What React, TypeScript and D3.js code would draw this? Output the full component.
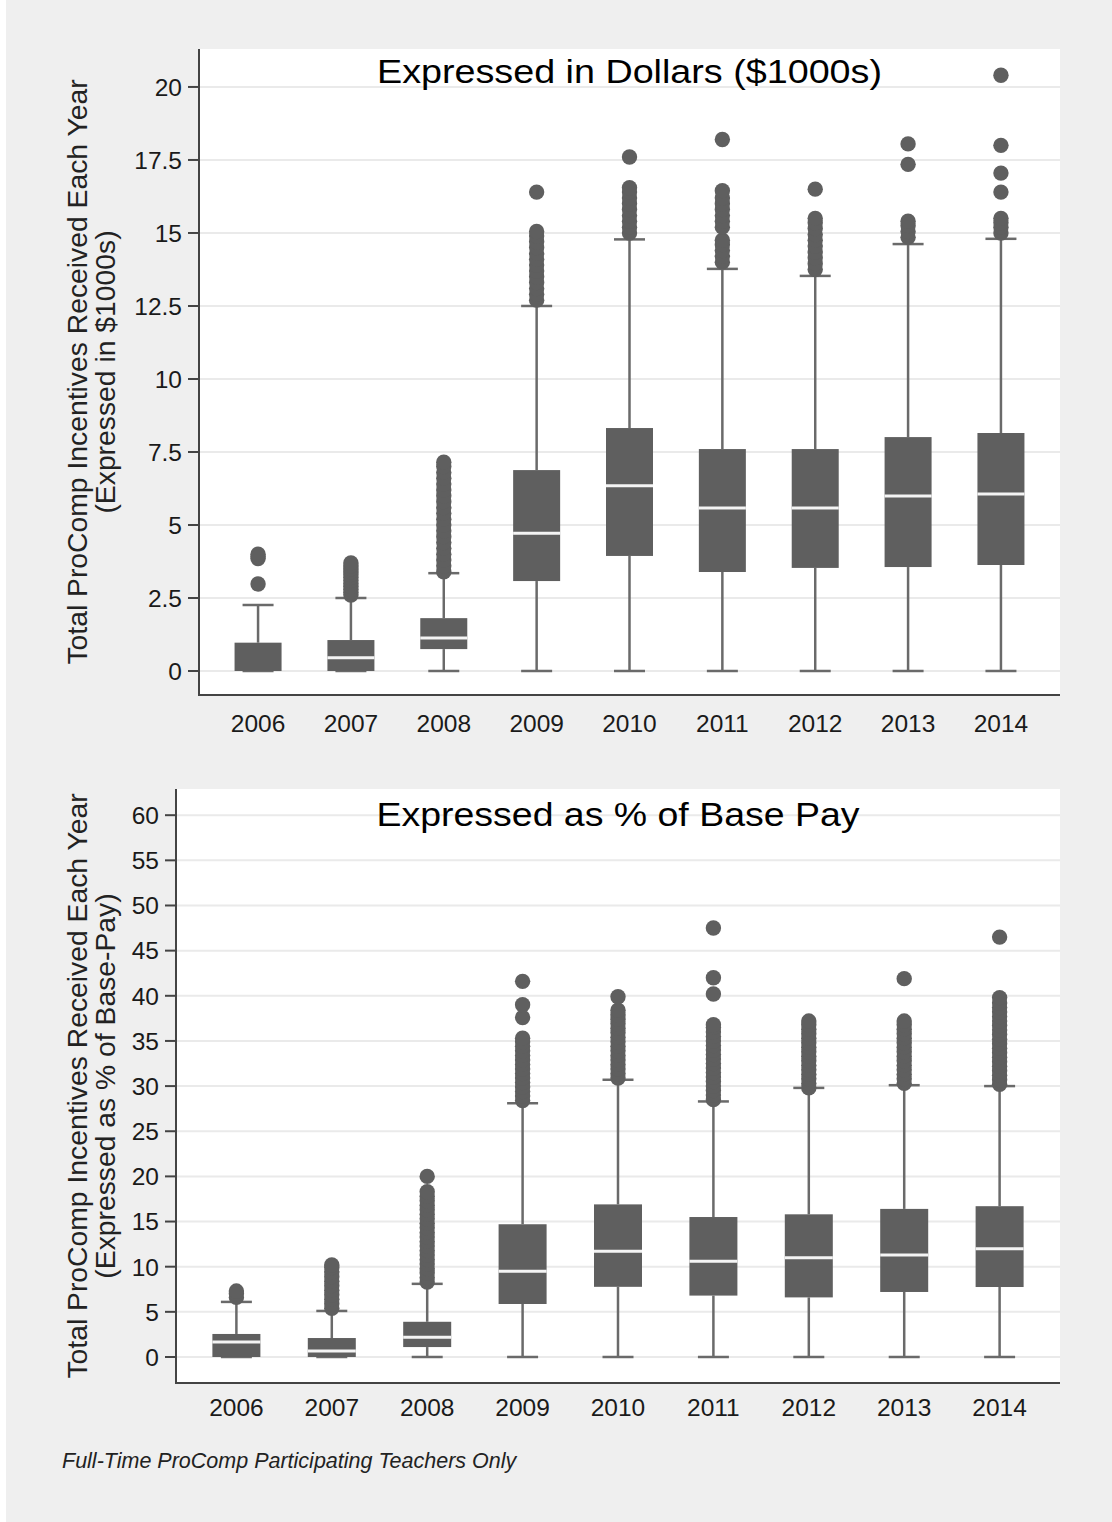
import React from "react";
import * as d3 from "d3";

// ---------- data ----------
const YEARS = ["2006", "2007", "2008", "2009", "2010", "2011", "2012", "2013", "2014"];

// Panel 1: dollars ($1000s)
const DOLLAR_TICKS = [0, 2.5, 5, 7.5, 10, 12.5, 15, 17.5, 20];
const DOLLAR_LO = [0, 0, 0, 0, 0, 0, 0, 0, 0];
const DOLLAR_Q1 = [0, 0, 0.75, 3.08, 3.94, 3.39, 3.53, 3.56, 3.63];
const DOLLAR_MED = [0, 0.45, 1.13, 4.72, 6.34, 5.58, 5.58, 5.99, 6.06];
const DOLLAR_Q3 = [0.97, 1.06, 1.81, 6.88, 8.32, 7.6, 7.6, 8.01, 8.15];
const DOLLAR_HI = [2.26, 2.5, 3.35, 12.5, 14.78, 13.77, 13.53, 14.62, 14.8];
const DOLLAR_OUTLIERS = [
  [2.98, 3.85, 3.92, 4.0],
  [2.6, 2.7, 2.8, 2.9, 3.0, 3.1, 3.2, 3.3, 3.4, 3.5, 3.6, 3.7],
  [3.4, 3.6, 3.8, 4.0, 4.2, 4.4, 4.6, 4.8, 5.0, 5.2, 5.4, 5.6, 5.8, 6.0, 6.2, 6.4, 6.6, 6.8, 7.0, 7.15],
  [12.7, 12.9, 13.1, 13.3, 13.5, 13.7, 13.9, 14.1, 14.3, 14.5, 14.7, 14.9, 15.05, 16.4],
  [15.0, 15.2, 15.4, 15.6, 15.8, 16.0, 16.2, 16.4, 16.55, 17.6],
  [14.0, 14.2, 14.4, 14.6, 14.75, 15.2, 15.4, 15.6, 15.8, 16.0, 16.2, 16.45, 18.2],
  [13.75, 13.95, 14.15, 14.35, 14.55, 14.75, 14.95, 15.15, 15.35, 15.5, 16.5],
  [14.85, 15.05, 15.25, 15.4, 17.35, 18.05],
  [15.0, 15.2, 15.35, 15.5, 16.4, 17.05, 18.0, 20.4],
];

// Panel 2: % of base pay
const PCT_TICKS = [0, 5, 10, 15, 20, 25, 30, 35, 40, 45, 50, 55, 60];
const PCT_LO = [0, 0, 0, 0, 0, 0, 0, 0, 0];
const PCT_Q1 = [0, 0, 1.1, 5.87, 7.77, 6.8, 6.6, 7.2, 7.75];
const PCT_MED = [1.66, 0.66, 2.2, 9.5, 11.7, 10.6, 11.0, 11.3, 12.0];
const PCT_Q3 = [2.55, 2.1, 3.9, 14.7, 16.9, 15.5, 15.8, 16.4, 16.7];
const PCT_HI = [6.1, 5.1, 8.1, 28.1, 30.7, 28.3, 29.8, 30.1, 30.0];
const PCT_OUTLIERS = [
  [6.6, 7.0, 7.3],
  [5.4, 5.9, 6.4, 6.9, 7.4, 7.9, 8.4, 8.9, 9.4, 9.9, 10.2],
  [8.3, 8.8, 9.3, 9.8, 10.3, 10.8, 11.3, 11.8, 12.3, 12.8, 13.3, 13.8, 14.3, 14.8, 15.3, 15.8, 16.3, 16.8, 17.3, 17.8, 18.3, 20.0],
  [28.4, 28.9, 29.4, 29.9, 30.4, 30.9, 31.4, 31.9, 32.4, 32.9, 33.4, 33.9, 34.4, 34.9, 35.3, 37.6, 39.0, 41.6],
  [30.9, 31.4, 31.9, 32.4, 32.9, 33.4, 33.9, 34.4, 34.9, 35.4, 35.9, 36.4, 36.9, 37.4, 37.9, 38.4, 39.9],
  [28.5, 29.0, 29.5, 30.0, 30.5, 31.0, 31.5, 32.0, 32.5, 33.0, 33.5, 34.0, 34.5, 35.0, 35.5, 36.0, 36.5, 36.8, 40.2, 42.0, 47.5],
  [29.8, 30.3, 30.8, 31.3, 31.8, 32.3, 32.8, 33.3, 33.8, 34.3, 34.8, 35.3, 35.8, 36.3, 36.8, 37.2],
  [30.3, 30.8, 31.3, 31.8, 32.3, 32.8, 33.3, 33.8, 34.3, 34.8, 35.3, 35.8, 36.3, 36.8, 37.2, 41.9],
  [30.2, 30.7, 31.2, 31.7, 32.2, 32.7, 33.2, 33.7, 34.2, 34.7, 35.2, 35.7, 36.2, 36.7, 37.2, 37.7, 38.2, 38.7, 39.2, 39.8, 46.5],
];

const TITLE_1 = "Expressed in Dollars ($1000s)";
const TITLE_2 = "Expressed as % of Base Pay";
const YLAB_LINE1 = "Total ProComp Incentives Received Each Year";
const YLAB_1_LINE2 = "(Expressed in $1000s)";
const YLAB_2_LINE2 = "(Expressed as % of Base-Pay)";
const NOTE = "Full-Time ProComp Participating Teachers Only";

// ---------- styles ----------
const FONT = "'Liberation Sans', Arial, Helvetica, sans-serif";
const BOX = "#5f5f5f";
const WHISK = "#6a6a6a";
const GRID = "#eaeaea";
const AXIS = "#444444";
const BG = "#efefef";

type PanelProps = {
  left: number;
  right: number;
  top: number;
  bottom: number;
  domain: [number, number];
  ticks: number[];
  lo: number[];
  q1: number[];
  med: number[];
  q3: number[];
  hi: number[];
  outliers: number[][];
  title: string;
  titleY: number;
  titleWidth: number;
  ylab2: string;
  xLabelY: number;
  padding: number;
  boxW: number;
};

function Panel(p: PanelProps) {
  const x = d3.scalePoint<string>().domain(YEARS).range([p.left, p.right]).padding(p.padding);
  const y = d3.scaleLinear().domain(p.domain).range([p.bottom, p.top]);
  const capW = 31;
  const cx = (p.left + p.right) / 2;
  const cy = (p.top + p.bottom) / 2;
  return (
    <g>
      <rect x={p.left} y={p.top} width={p.right - p.left} height={p.bottom - p.top} fill="#ffffff" />
      {p.ticks.map((t) => (
        <line key={"g" + t} x1={p.left} x2={p.right} y1={y(t)} y2={y(t)} stroke={GRID} strokeWidth={2} />
      ))}
      <text
        x={cx}
        y={p.titleY}
        textAnchor="middle"
        fontFamily={FONT}
        fontSize={33}
        fill="#000"
        textLength={p.titleWidth}
        lengthAdjust="spacingAndGlyphs"
      >
        {p.title}
      </text>
      {YEARS.map((yr, i) => {
        const xc = x(yr) as number;
        return (
          <g key={yr}>
            <line x1={xc} x2={xc} y1={y(p.q3[i])} y2={y(p.hi[i])} stroke={WHISK} strokeWidth={2.5} />
            <line x1={xc} x2={xc} y1={y(p.q1[i])} y2={y(p.lo[i])} stroke={WHISK} strokeWidth={2.5} />
            <line x1={xc - capW / 2} x2={xc + capW / 2} y1={y(p.hi[i])} y2={y(p.hi[i])} stroke={WHISK} strokeWidth={2.5} />
            <line x1={xc - capW / 2} x2={xc + capW / 2} y1={y(p.lo[i])} y2={y(p.lo[i])} stroke={WHISK} strokeWidth={2.5} />
            <rect
              x={xc - p.boxW / 2}
              y={y(p.q3[i])}
              width={p.boxW}
              height={y(p.q1[i]) - y(p.q3[i])}
              fill={BOX}
            />
            {p.med[i] > p.q1[i] && (
              <line
                x1={xc - p.boxW / 2}
                x2={xc + p.boxW / 2}
                y1={y(p.med[i])}
                y2={y(p.med[i])}
                stroke="#f4f4f4"
                strokeWidth={3}
              />
            )}
            {p.outliers[i].map((v, j) => (
              <circle key={j} cx={xc} cy={y(v)} r={7.7} fill={BOX} />
            ))}
            <text
              x={xc}
              y={p.xLabelY}
              textAnchor="middle"
              fontFamily={FONT}
              fontSize={24.5}
              fill="#1a1a1a"
            >
              {yr}
            </text>
          </g>
        );
      })}
      <line x1={p.left} x2={p.left} y1={p.top} y2={p.bottom + 1} stroke={AXIS} strokeWidth={2} />
      <line x1={p.left - 1} x2={p.right} y1={p.bottom} y2={p.bottom} stroke={AXIS} strokeWidth={2} />
      {p.ticks.map((t) => (
        <g key={"t" + t}>
          <line x1={p.left - 11} x2={p.left} y1={y(t)} y2={y(t)} stroke={AXIS} strokeWidth={2} />
          <text
            x={p.left - 17}
            y={y(t)}
            dy="0.36em"
            textAnchor="end"
            fontFamily={FONT}
            fontSize={24.5}
            fill="#1a1a1a"
          >
            {String(t)}
          </text>
        </g>
      ))}
      <text
        transform={`translate(87,${cy}) rotate(-90)`}
        textAnchor="middle"
        fontFamily={FONT}
        fontSize={28.3}
        fill="#222"
      >
        {YLAB_LINE1}
      </text>
      <text
        transform={`translate(115,${cy}) rotate(-90)`}
        textAnchor="middle"
        fontFamily={FONT}
        fontSize={28.3}
        fill="#222"
      >
        {p.ylab2}
      </text>
    </g>
  );
}

export default function App() {
  const W = 1112;
  const H = 1522;
  return (
    <svg
      width={W}
      height={H}
      style={{ position: "absolute", left: 0, top: 0, display: "block" }}
    >
      <rect x={0} y={0} width={W} height={H} fill="#ffffff" />
      <rect x={6} y={0} width={W - 6} height={H} fill={BG} />
      <Panel
        left={199}
        right={1060}
        top={49}
        bottom={695}
        domain={[-0.822, 21.3]}
        ticks={DOLLAR_TICKS}
        lo={DOLLAR_LO}
        q1={DOLLAR_Q1}
        med={DOLLAR_MED}
        q3={DOLLAR_Q3}
        hi={DOLLAR_HI}
        outliers={DOLLAR_OUTLIERS}
        title={TITLE_1}
        titleY={83}
        titleWidth={505}
        ylab2={YLAB_1_LINE2}
        xLabelY={732}
        padding={0.636}
        boxW={47}
      />
      <Panel
        left={176}
        right={1060}
        top={789}
        bottom={1383}
        domain={[-2.88, 62.9]}
        ticks={PCT_TICKS}
        lo={PCT_LO}
        q1={PCT_Q1}
        med={PCT_MED}
        q3={PCT_Q3}
        hi={PCT_HI}
        outliers={PCT_OUTLIERS}
        title={TITLE_2}
        titleY={826}
        titleWidth={483}
        ylab2={YLAB_2_LINE2}
        xLabelY={1416}
        padding={0.633}
        boxW={48}
      />
      <text
        x={62}
        y={1468}
        fontFamily={FONT}
        fontStyle="italic"
        fontSize={21.5}
        fill="#222"
      >
        {NOTE}
      </text>
    </svg>
  );
}
